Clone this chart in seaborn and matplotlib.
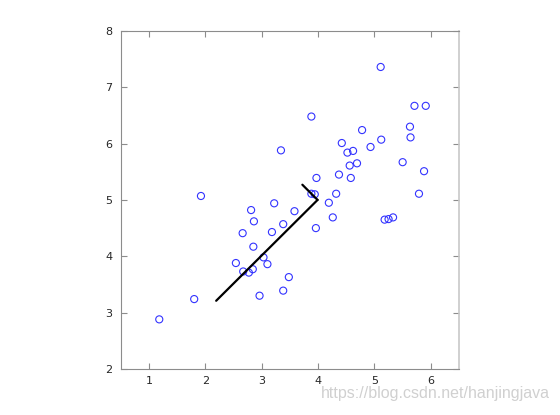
import numpy as np
import pandas as pd
import matplotlib
matplotlib.use('Agg')
import matplotlib.pyplot as plt
import seaborn as sns

# data points
x1 = [5.11, 5.71, 5.91, 3.88, 5.63, 5.64, 4.78, 4.42, 5.12, 4.93,
      3.34, 4.52, 4.62, 5.50, 4.56, 4.69, 5.88, 4.37, 3.97, 4.58,
      1.92, 3.88, 3.94, 4.32, 5.79, 4.19, 3.22, 2.81, 3.58, 4.26,
      5.18, 5.25, 5.33, 2.86, 3.38, 3.96, 3.18, 2.66, 2.85, 3.03,
      2.54, 3.10, 2.67, 2.77, 2.84, 3.48, 3.38, 2.96, 1.80, 1.18]
x2 = [7.36, 6.67, 6.67, 6.48, 6.30, 6.11, 6.24, 6.01, 6.07, 5.94,
      5.88, 5.84, 5.87, 5.67, 5.61, 5.65, 5.51, 5.45, 5.39, 5.39,
      5.07, 5.11, 5.10, 5.11, 5.11, 4.95, 4.94, 4.82, 4.80, 4.69,
      4.65, 4.66, 4.69, 4.62, 4.57, 4.50, 4.43, 4.41, 4.17, 3.98,
      3.88, 3.86, 3.73, 3.71, 3.77, 3.63, 3.39, 3.30, 3.24, 2.88]

# principal directions drawn from the mean
mu = [3.99, 5.00]
pc1_end = [2.19, 3.21]
pc2_end = [3.72, 5.27]

df = pd.DataFrame({'x1': x1, 'x2': x2})

sns.set_style('white')
fig = plt.figure(figsize=(5.6, 4.15), dpi=100)
ax = fig.add_axes([0.216, 0.111, 0.6036, 0.8145])

sns.scatterplot(data=df, x='x1', y='x2', ax=ax, marker='o', s=26,
                facecolor='none', edgecolor='#3333ff', linewidth=0.8, legend=False)
ax.plot([mu[0], pc1_end[0]], [mu[1], pc1_end[1]], color='black', lw=1.6)
ax.plot([mu[0], pc2_end[0]], [mu[1], pc2_end[1]], color='black', lw=1.6)

ax.set_xlim(0.5, 6.5)
ax.set_ylim(2, 8)
ax.set_xticks([1, 2, 3, 4, 5, 6])
ax.set_yticks([2, 3, 4, 5, 6, 7, 8])
ax.set_xlabel('')
ax.set_ylabel('')
for s in ax.spines.values():
    s.set_visible(True)
    s.set_color('#8c8c8c')
    s.set_linewidth(0.8)
ax.spines['right'].set_color('#c8c8c8')
ax.spines['right'].set_linewidth(1.2)
ax.tick_params(direction='in', length=4, width=0.8, color='#8c8c8c',
               labelsize=8, labelcolor='#262626', top=True, right=True,
               left=True, bottom=True, pad=6)
ax.tick_params(axis='x', pad=5)

fig.text(0.982, 0.052, 'https://blog.csdn.net/hanjingjava', ha='right', va='center',
         fontsize=11.5, color='#d0d0d0', family='Liberation Sans')

fig.savefig('out.png', dpi=100)
